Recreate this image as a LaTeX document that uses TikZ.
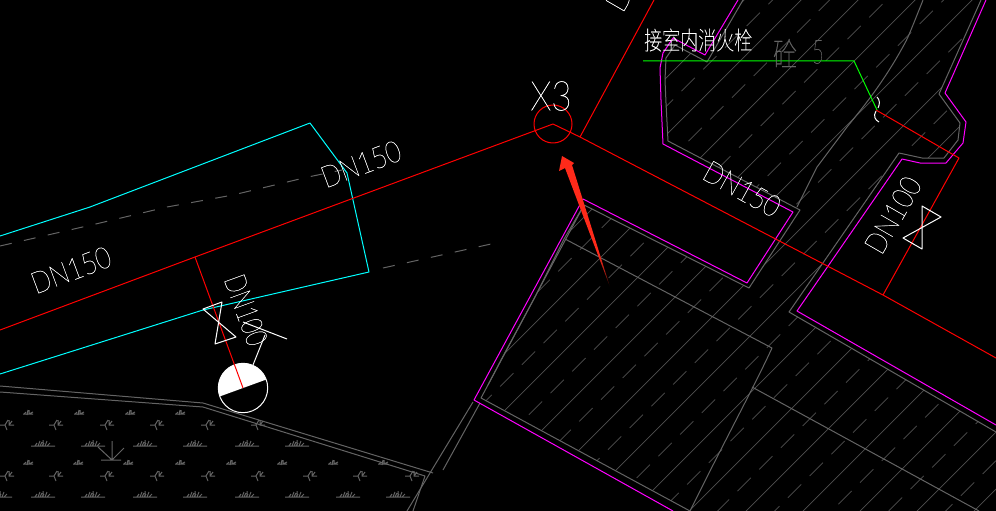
\documentclass[tikz,border=0pt]{standalone}
\usepackage{fontspec}
\IfFontExistsTF{Lato Hairline}{\newfontfamily\cadfont[FakeBold=0.7]{Lato Hairline}}{\IfFontExistsTF{Lato Thin}{\newfontfamily\cadfont[FakeBold=0.5]{Lato Thin}}{\IfFontExistsTF{Lato Light}{\newfontfamily\cadfont{Lato Light}}{\newfontfamily\cadfont{Lato}}}}
\IfFontExistsTF{Noto Sans CJK SC Thin}{\newfontfamily\cjkfont[FakeBold=0.4]{Noto Sans CJK SC Thin}}{\IfFontExistsTF{Noto Sans CJK SC Light}{\newfontfamily\cjkfont{Noto Sans CJK SC Light}}{\newfontfamily\cjkfont{Noto Sans CJK SC}}}
\definecolor{cadgray}{HTML}{646464}
\definecolor{hatchgray}{HTML}{505050}
\definecolor{arrowred}{HTML}{FF2A1A}
\definecolor{cadred}{HTML}{FF0000}
\definecolor{cadcyan}{HTML}{00FFFF}
\definecolor{cadmag}{HTML}{FF00FF}
\definecolor{cadgreen}{HTML}{00FF00}
\pgfdeclareverticalshading{arrowfade}{100bp}{color(0bp)=(black);color(25bp)=(black);color(29bp)=(arrowred!55!black);color(38bp)=(arrowred);color(100bp)=(arrowred)}
\tikzset{
  base/.style={line width=1pt,line join=round},
  redline/.style={base,draw=cadred},
  cyanline/.style={base,draw=cadcyan},
  magline/.style={base,draw=cadmag},
  grayline/.style={base,draw=cadgray},
  hatch/.style={line width=0.7pt,draw=hatchgray},
  whiteline/.style={base,draw=white},
  dnlabel/.style={text=white,inner sep=0pt,font=\cadfont\fontsize{30}{30}\selectfont},
  grass/.style={line width=1pt,draw=cadgray},
  grassa/.pic={\draw[grass] (-5,1)--(5,1) (-1,2)--(0,-3) (1,1)--(1,-3) (1,1)--(5,-1) (-4,1)--(-2,-1);},
  grassb/.pic={\draw[grass] (-7,0)--(-2,0)--(1,-5) (-2,0)--(0,5) (2,-5)--(2,0)--(7,0) (2,0)--(5,-4);},
  grassc/.pic={\draw[grass] (-12,2)--(12,2) (-8,2)--(-6,-1) (-5,2)--(-3,-3) (-3,2)--(-1,-2) (0,2)--(0,-4) (2,2)--(4,-3) (4,2)--(7,-1) (-1,2)--(1,-1);}
}
\begin{document}
\begin{tikzpicture}[x=1pt,y=-1pt]
\useasboundingbox (0,0) rectangle (996,511);
\fill[black] (0,0) rectangle (996,511);
\clip (0,0) rectangle (996,511);

% hatch of the building
\begin{scope}
\clip (743,0)--(707,62)--(675,45)--(666,58)--(665,80)--(666,103)--(668,141)--(800,210)--(749,288)--(584,205)--(481,398)--(690,511)--(996,511)--(996,432)--(789,312)--(899,153)--(922,158)--(944,158)--(958,140)--(960,123)--(939,94)--(981,0)--cycle;
\foreach \k in {-7,...,7}{
  \pgfmathsetmacro{\cs}{1143+57*\k}
  \pgfmathsetmacro{\cd}{1171.5+57*\k}
  \pgfmathsetmacro{\xs}{500+7*(\k+5)-217}
  \draw[hatch] (300,{\cs-300}) -- (1000,{\cs-1000});
  \draw[hatch,dash pattern=on 18.8pt off 11.9pt] (\xs,{\cd-\xs}) -- ({\xs+800},{\cd-\xs-800});
}
\end{scope}

% gray outlines
\draw[grayline] (743,0)--(707,62)--(675,45)--(666,58)--(665,80)--(666,103)--(668,141)--(800,210)--(749,288)--(584,205)--(481,398)--(690,511);
\draw[grayline] (584,205)--(564,239)--(535,297)--(501,360)--(488,385);
\draw[grayline] (996,432)--(789,312)--(899,153)--(922,158)--(944,158)--(958,140)--(960,123)--(939,94)--(981,0);
\draw[grayline] (565,239)--(772,348) .. controls (755,385) and (725,440) .. (690,511);
\draw[grayline] (752,387)--(979,511);
\draw[grayline] (923,0) .. controls (915,20) and (908,38) .. (905,43) .. controls (885,80) and (865,105) .. (847,127) -- (817,167)--(797,207);
% road and lawn edge
\draw[grayline] (0,386)--(203,403)--(433,473);
\draw[grayline] (0,392)--(203,407)--(425,476)--(413,511);
\draw[grayline] (473,402)--(407,511);
\draw[grayline] (480,403)--(443,470);

% lawn symbols
\foreach \x in {28,79,130,180} \pic at (\x,413) {grassa};
\foreach \x in {7,56,107,157,208,258} \pic at (\x,425) {grassb};
\foreach \x in {43,93,145,195,247,297} \pic at (\x,444) {grassc};
\foreach \x in {28,78,128,180,231,282,333,383} \pic at (\x,463) {grassa};
\foreach \x in {7,56,107,157,208,258,310,360,412} \pic at (\x,476) {grassb};
\foreach \x in {0,43,93,145,195,247,297,348,398} \pic at (\x,495) {grassc};
\draw[grass] (101,460)--(121,460) (112,460)--(112,441) (112,460)--(98,447) (112,460)--(124,448);

% gray dashes
\draw[grayline,dash pattern=on 12pt off 12.5pt] (0,246)--(100,223)--(167,207)--(233,195)--(308,177)--(342,170);
\draw[grayline,dash pattern=on 12pt off 12.5pt] (383,268)--(500,242);

% magenta outlines
\draw[magline] (738,0)--(705,55)--(673,38)--(663,53)--(660,68)--(661,100)--(663,144)--(793,212)--(747,283)--(583,199)--(474,400)--(673,511);
\draw[magline] (986,0)--(945,93)--(966,122)--(963,143)--(946,163)--(920,163)--(902,159)--(797,311)--(996,425);

% cyan outlines
\draw[cyanline] (0,236)--(90,207)--(310,123)--(347,173)--(369,272)--(203,310)--(0,374);

% red pipes
\draw[redline] (0,330)--(195,257)--(553,124)--(580,137)--(883,295)--(996,358);
\draw[redline] (580,137)--(654,0);
\draw[redline] (876,110)--(959,158)--(883,295);
\draw[redline] (553,124) circle[radius=19];

% green leader
\draw[base,draw=cadgreen] (643,61)--(854,61)--(877,110);
\draw[whiteline] (877,97) .. controls (880,100) and (880,104) .. (878,108);
\draw[whiteline] (876,111) .. controls (873,116) and (875,120) .. (879,122);

% hydrant
\fill[white] (243,388) ++(-20:24.7) arc[start angle=-20,end angle=-200,radius=24.7] -- cycle;
\draw[whiteline] (243,388) circle[radius=24.7];
\draw[redline] (195,257)--(243,388);

% valves and leaders
\draw[whiteline] (203,309)--(222,302)--(215,344)--(236,337)--cycle;
\draw[whiteline] (922,206)--(941,217)--(903,238)--(922,249)--cycle;
\draw[whiteline] (243,322)--(287,339);
\draw[whiteline] (265,335)--(253,365);

% texts
\node[dnlabel,rotate=20.5] (dna) at (71,270) {\scalebox{0.85}[1]{DN150}};
\node[dnlabel,rotate=20.5] (dnb) at (361,164) {\scalebox{0.85}[1]{DN150}};
\node[dnlabel,rotate=-29] (dnc) at (742,189) {\scalebox{0.85}[1]{DN150}};
\node[dnlabel,rotate=60] (dnd) at (893,215) {\scalebox{0.85}[1]{DN100}};
\node[dnlabel,rotate=-70] (dne) at (246,310) {\scalebox{0.75}[1]{DN100}};
\node[dnlabel,rotate=60] (dnf) at (619,-1) {D};
\node[text=white,inner sep=0pt,font=\cadfont\fontsize{41}{41}\selectfont] (xthree) at (551,96) {\scalebox{0.85}[1]{X3}};
\node[text=white,inner sep=0pt,font=\cjkfont\fontsize{24}{24}\selectfont,anchor=west] (note) at (644,40) {\scalebox{0.75}[1.05]{接室内消火栓}};
\node[text=cadgray,inner sep=0pt,font=\cjkfont\fontsize{30}{30}\selectfont] (conc) at (785,53) {\scalebox{0.8}[1.1]{砼}};
\node[text=cadgray,inner sep=0pt,font=\cadfont\fontsize{33}{33}\selectfont] (five) at (818,52) {\scalebox{0.6}[1]{5}};

% red arrow
\shade[shading=arrowfade] (562,156)--(559,171)--(565,168)--(610,287)--(572,165)--(574,163)--cycle;
\end{tikzpicture}
\end{document}
